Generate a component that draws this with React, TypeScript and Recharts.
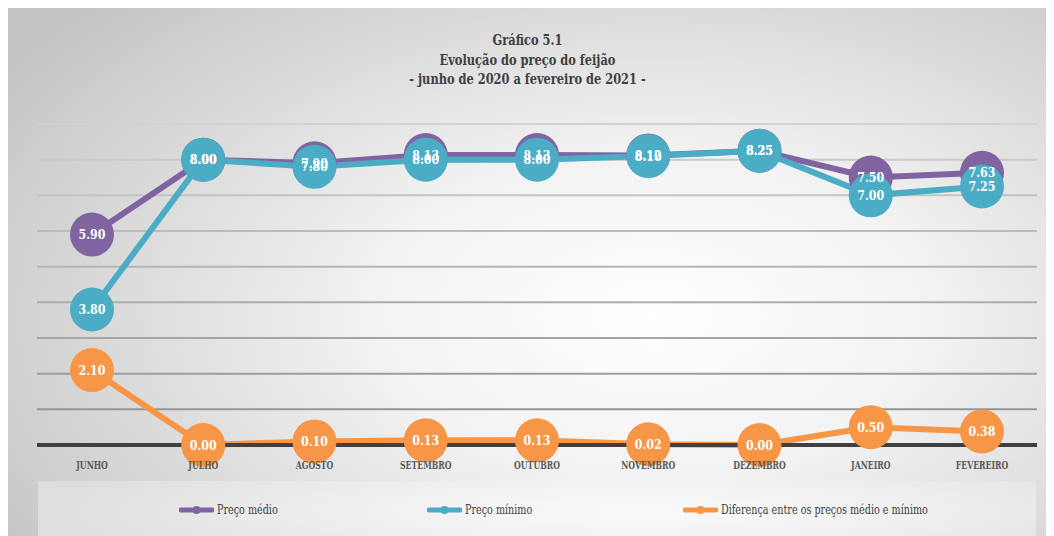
import React from 'react';
import { LineChart, Line, XAxis, YAxis, CartesianGrid } from 'recharts';

const categories = ['JUNHO', 'JULHO', 'AGOSTO', 'SETEMBRO', 'OUTUBRO', 'NOVEMBRO', 'DEZEMBRO', 'JANEIRO', 'FEVEREIRO'];
const precoMedio = [5.9, 8.0, 7.9, 8.13, 8.13, 8.12, 8.25, 7.5, 7.63];
const precoMinimo = [3.8, 8.0, 7.8, 8.0, 8.0, 8.1, 8.25, 7.0, 7.25];
const diferenca = [2.1, 0.0, 0.1, 0.13, 0.13, 0.02, 0.0, 0.5, 0.38];
const yTicks = [0, 1, 2, 3, 4, 5, 6, 7, 8, 9];

const titleLines = ['Gráfico 5.1', 'Evolução do preço do feijão', '- junho de 2020 a fevereiro de 2021 -'];

const series = [
    { key: 'medio', name: 'Preço médio', color: '#8064a2' },
    { key: 'minimo', name: 'Preço mínimo', color: '#4bacc6' },
    { key: 'dif', name: 'Diferença entre os preços médio e mínimo', color: '#f79646' },
];

const data = categories.map((name, i) => ({
    name,
    medio: precoMedio[i],
    minimo: precoMinimo[i],
    dif: diferenca[i],
}));

const FONT = "'DejaVu Serif', serif";

const W = 1041;
const H = 528;
const TOP = 116;
const BOTTOM_Y = 437;

// grid lines get darker towards the bottom, like the original
const gridLine = (p: any) => {
    const t = Math.min(1, Math.max(0, (p.y1 - TOP) / (BOTTOM_Y - TOP)));
    const c = Math.round(0xd2 - t * (0xd2 - 0x8e));
    return (
        <line
            key={p.key ?? `g-${p.y1}`}
            x1={p.x1}
            x2={p.x2}
            y1={p.y1}
            y2={p.y2}
            stroke={`rgb(${c},${c},${c})`}
            strokeWidth={2}
        />
    );
};

const pointLabel = (props: any) => {
    const { x, y, value, index } = props;
    if (x == null || y == null) return null;
    return (
        <g key={`l-${index}`} transform={`translate(${x},${y}) scale(0.85,1)`}>
            <text
                x={0}
                y={0}
                dy={4.5}
                textAnchor="middle"
                fill="#ffffff"
                fontFamily={FONT}
                fontWeight="bold"
                fontSize={13}
            >
                {Number(value).toFixed(2)}
            </text>
        </g>
    );
};

const CategoryTick = (props: any) => {
    const { x, y, payload } = props;
    return (
        <g transform={`translate(${x},${y}) scale(0.74,1)`}>
            <text x={0} y={0} dy={10} textAnchor="middle" fill="#595959" fontFamily={FONT} fontWeight="bold" fontSize={10.5}>
                {payload.value}
            </text>
        </g>
    );
};

const LegendIcon = ({ color }: { color: string }) => (
    <svg width={35} height={10} style={{ marginRight: 3 }}>
        <line x1={2} y1={5} x2={33} y2={5} stroke={color} strokeWidth={5} strokeLinecap="round" />
        <circle cx={17.5} cy={5} r={4} fill={color} />
    </svg>
);

const App: React.FC = () => {
    const legendX = [172, 420, 676];
    return (
        <div
            style={{
                position: 'relative',
                width: W,
                height: H,
                marginLeft: -1,
                background: 'radial-gradient(ellipse 75% 85% at 62% 58%, #ffffff 0%, #f3f3f3 35%, #c4c4c4 100%)',
                fontFamily: FONT,
                overflow: 'hidden',
            }}
        >
            <div
                style={{
                    position: 'absolute',
                    top: 23,
                    left: 0,
                    width: W - 8,
                    textAlign: 'center',
                    color: '#404040',
                    fontWeight: 'bold',
                    fontSize: 15,
                    lineHeight: '19.5px',
                    transform: 'scaleX(0.76)',
                    transformOrigin: '533px 0',
                }}
            >
                {titleLines.map((t) => (
                    <div key={t}>{t}</div>
                ))}
            </div>

            <div style={{ position: 'absolute', left: 0, top: 0 }}>
                <LineChart
                    width={W}
                    height={H}
                    data={data}
                    margin={{ top: TOP, right: 11, left: 30, bottom: 61 }}
                >
                    <CartesianGrid vertical={false} horizontal={gridLine} />
                    <XAxis
                        dataKey="name"
                        height={30}
                        tickLine={false}
                        axisLine={{ stroke: '#404040', strokeWidth: 4 }}
                        interval={0}
                        padding={{ left: 55, right: 55 }}
                        tick={<CategoryTick />}
                        tickMargin={8}
                    />
                    <YAxis hide domain={[0, 9]} ticks={yTicks} />
                    {series.map((s) => (
                        <Line
                            key={s.key}
                            type="linear"
                            dataKey={s.key}
                            name={s.name}
                            stroke={s.color}
                            strokeWidth={6}
                            dot={{ r: 22, fill: s.color, stroke: s.color, strokeWidth: 0 }}
                            activeDot={false}
                            isAnimationActive={false}
                        />
                    ))}
                    {series.map((s) => (
                        <Line
                            key={`${s.key}-labels`}
                            type="linear"
                            dataKey={s.key}
                            stroke="none"
                            dot={false}
                            activeDot={false}
                            legendType="none"
                            label={pointLabel}
                            isAnimationActive={false}
                        />
                    ))}
                </LineChart>
            </div>

            <div
                style={{
                    position: 'absolute',
                    left: 31,
                    top: 473,
                    width: 998,
                    height: 60,
                    background: 'radial-gradient(ellipse 60% 120% at 60% 50%, #fafafa 0%, #efefef 50%, #dedede 100%)',
                }}
            >
                {series.map((s, i) => (
                    <div
                        key={s.key}
                        style={{
                            position: 'absolute',
                            left: legendX[i] - 31,
                            top: 22,
                            display: 'flex',
                            alignItems: 'center',
                            fontSize: 12,
                            color: '#404040',
                            whiteSpace: 'nowrap',
                        }}
                    >
                        <LegendIcon color={s.color} />
                        <span style={{ display: 'inline-block', transform: 'scaleX(0.8)', transformOrigin: '0 50%' }}>
                            {s.name}
                        </span>
                    </div>
                ))}
            </div>
        </div>
    );
};

export default App;
